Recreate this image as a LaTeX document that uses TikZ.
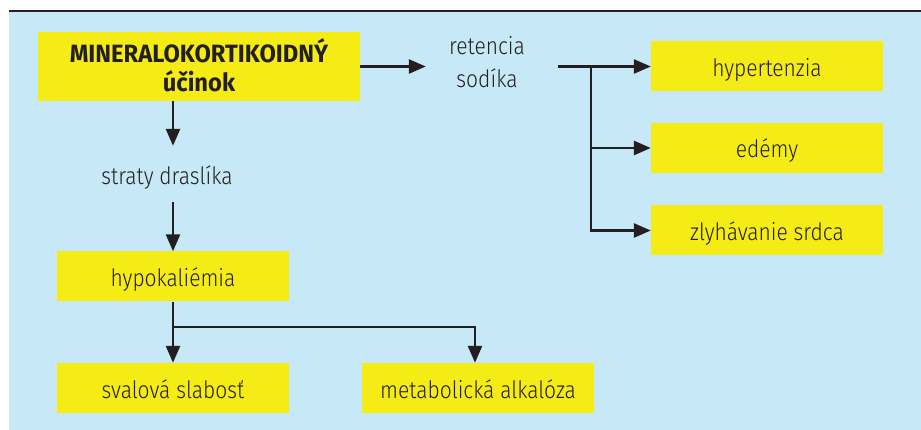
\documentclass[tikz,border=0pt]{standalone}
\usepackage{fontspec}
\usetikzlibrary{arrows.meta}
\definecolor{bg}{HTML}{C6E8F7}
\definecolor{ybox}{HTML}{F5EB15}
\definecolor{ink}{HTML}{231F20}
\IfFontExistsTF{Fira Sans Light}{\setmainfont{Fira Sans Light}[FakeStretch=0.875]\definecolor{tx}{HTML}{231F20}}{%
  \IfFontExistsTF{FiraSans-Light.otf}{\setmainfont{FiraSans-Light.otf}[FakeStretch=0.875]\definecolor{tx}{HTML}{0000FF}}{%
    \IfFontExistsTF{Lato Light}{\setmainfont{Lato Light}[FakeStretch=0.9]\definecolor{tx}{HTML}{00AA00}}{%
      \IfFontExistsTF{Open Sans Light}{\setmainfont{Open Sans Light}[FakeStretch=0.85]\definecolor{tx}{HTML}{FF00FF}}{%
        \setmainfont{Fira Sans}[FakeStretch=0.875]\definecolor{tx}{HTML}{FF0000}}}}}
\newfontfamily\bfam{Fira Sans}[FakeStretch=0.95]
\newcommand\fsn{\fontsize{24}{33}\selectfont}
\newcommand\fsb{\bfam\bfseries\fontsize{25}{29.4}\selectfont}
\begin{document}
\begin{tikzpicture}[x=1pt,y=-1pt,
  box/.style={fill=ybox, draw=none, minimum width=232pt, minimum height=50pt,
    inner sep=0pt, text=tx, font=\fsn, text height=20pt, text depth=0pt},
  plain/.style={text=tx, font=\fsn, inner sep=0pt, align=center},
  arr/.style={draw=ink, line width=2.6pt, -{Triangle[length=17pt,width=14pt]}}]
\useasboundingbox (0,0) rectangle (921,430);
\fill[bg] (9,11) rectangle (921,430);
\draw[ink, line width=2.4pt] (9,11) -- (921,11);

% nodes
\node[box, minimum width=322pt, minimum height=69pt, align=center, font=\fsb, text=ink,
      text height=50.4pt, text depth=0pt] (m) at (199,66.5) {MINERALOKORTIKOIDNÝ\\účinok};
\node[plain, minimum width=122pt, text height=46pt, text depth=0pt] (ret) at (487,65) {retencia\\sodíka};
\node[box] (hyp) at (767,66.5) {hypertenzia};
\node[box] (ede) at (767,148) {edémy};
\node[box] (zly) at (767,230.5) {zlyhávanie srdca};
\node[plain, minimum height=56pt, text height=22pt, text depth=0pt] (str) at (167,174) {straty draslíka};
\node[box] (hk) at (173,276.5) {hypokaliémia};
\node[box] (sv) at (173,388) {svalová slabosť};
\node[box] (ma) at (478,388) {metabolická alkalóza};
\coordinate (br) at (591,66.5);
\coordinate (br2) at (173,327);

% connectors
\draw[arr] (m.east) -- (m.east -| ret.west);
\draw[arr] ([xshift=10pt]ret.east |- hyp.west) -- (hyp.west);
\draw[arr] (br |- ede.west) -- (ede.west);
\draw[arr] (br) |- (zly.west);
\draw[arr] (m.south -| hk.north) -- (str.north -| hk.north);
\draw[arr] (str.south -| hk.north) -- (hk.north);
\draw[arr] (hk.south) -- (sv.north);
\draw[arr] (br2) -| ([xshift=-3pt]ma.north);
\end{tikzpicture}
\end{document}
